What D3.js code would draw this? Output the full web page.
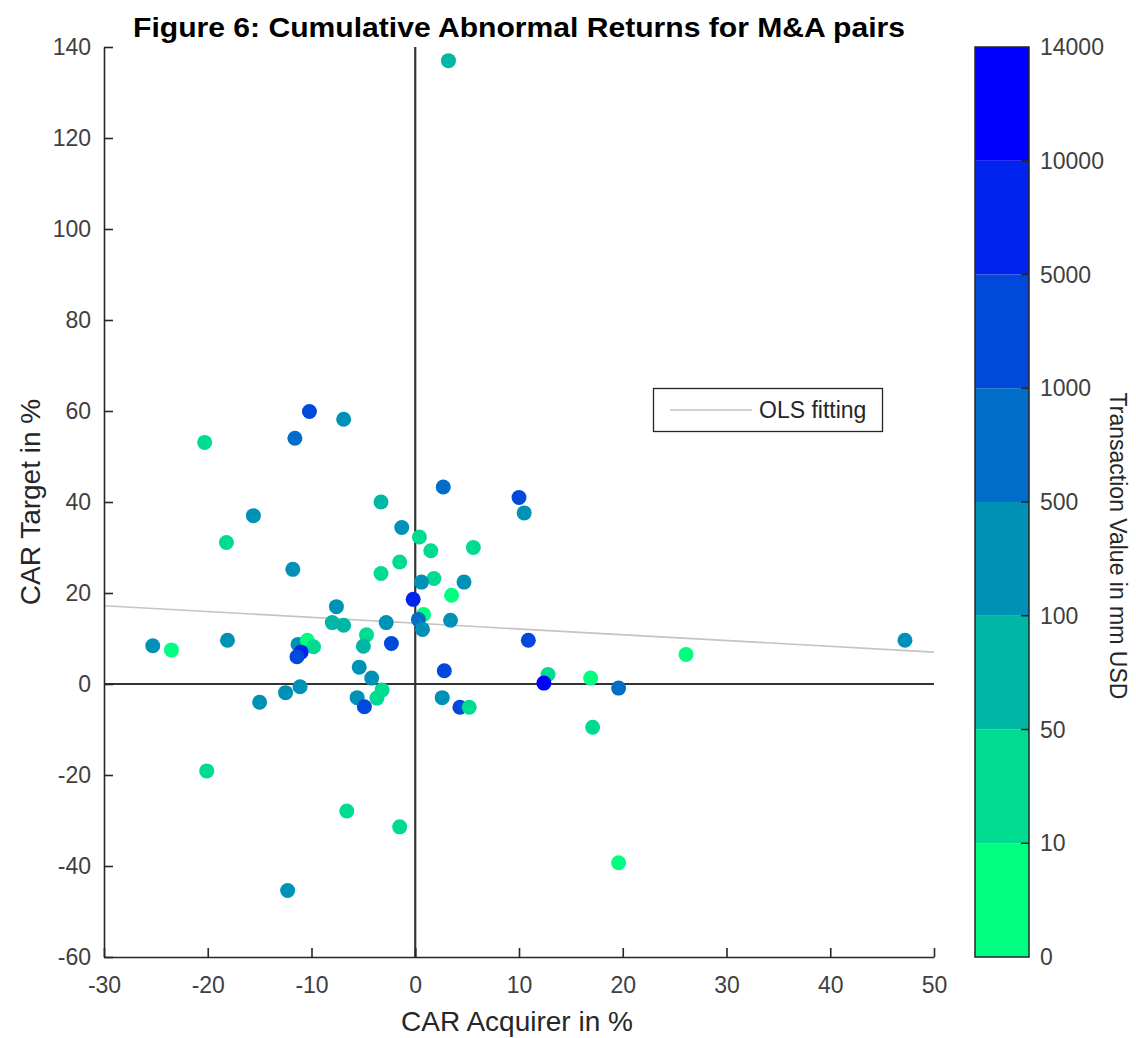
<!DOCTYPE html>
<html>
<head>
<meta charset="utf-8">
<script src="https://cdn.jsdelivr.net/npm/d3@7"></script>
<style>
  html, body { margin: 0; padding: 0; background: #fff; }
  svg { display: block; font-family: "Liberation Sans", Arial, Helvetica, sans-serif; }
</style>
</head>
<body>
<svg id="chart" width="1136" height="1038"></svg>
<script>
// ---------------- data ----------------
const acquirerCAR = [3.2, -20.3, -10.2, -6.9, -11.6, 2.7, 10.0, 10.5, -3.3, -15.6,
  -1.3, -18.2, 0.4, 1.5, 5.6, -1.5, -3.3, 1.8, 0.6, 4.7,
  -11.8, 3.5, -0.2, -7.6, 0.8, 3.4, -8.0, -6.9, -2.8, 0.3,
  0.7, -25.3, -23.5, -18.1, -11.3, -10.4, -9.8, -11.0, -11.4, -4.7,
  -5.0, -2.3, -5.4, -4.2, 2.8, -11.1, -12.5, -15.0, -5.6, -4.9,
  -3.2, -3.7, 2.6, 4.3, 5.2, 10.9, 12.8, 12.4, 16.9, 19.6,
  17.1, 26.1, 47.2, 19.6, -20.1, -6.6, -1.5, -12.3];
const targetCAR = [137.0, 53.1, 59.9, 58.2, 54.0, 43.3, 41.0, 37.6, 40.0, 37.0,
  34.4, 31.1, 32.3, 29.3, 30.0, 26.8, 24.3, 23.2, 22.4, 22.4,
  25.2, 19.5, 18.6, 17.0, 15.3, 14.0, 13.5, 12.9, 13.5, 14.2,
  12.0, 8.4, 7.5, 9.6, 8.7, 9.6, 8.2, 7.0, 6.0, 10.8,
  8.3, 8.9, 3.7, 1.3, 2.9, -0.6, -1.9, -4.0, -3.0, -5.0,
  -1.3, -3.1, -3.0, -5.1, -5.1, 9.6, 2.1, 0.2, 1.3, -0.9,
  -9.5, 6.5, 9.6, -39.3, -19.1, -27.9, -31.4, -45.4];
// transaction value in mm USD (estimated within colour band)
const dealValue = [75, 30, 3000, 300, 750, 750, 3000, 300, 75, 300,
  300, 30, 30, 30, 30, 30, 30, 30, 300, 300,
  300, 5, 7500, 300, 5, 300, 75, 75, 300, 750,
  300, 300, 5, 300, 300, 5, 30, 7500, 3000, 30,
  75, 3000, 300, 300, 3000, 300, 300, 300, 300, 3000,
  30, 30, 300, 3000, 30, 3000, 30, 12000, 5, 750,
  30, 5, 300, 5, 30, 30, 30, 300];

const xTicks = [-30, -20, -10, 0, 10, 20, 30, 40, 50];
const yTicks = [-60, -40, -20, 0, 20, 40, 60, 80, 100, 120, 140];
const colorbarTicks = [0, 10, 50, 100, 500, 1000, 5000, 10000, 14000];
// OLS fit line: [x, y] at both ends of the x range
const olsStart = [-30, 17.2];
const olsEnd = [50, 7.0];

const titleText = "Figure 6: Cumulative Abnormal Returns for M&A pairs";
const xLabel = "CAR Acquirer in %";
const yLabel = "CAR Target in %";
const cbLabel = "Transaction Value in mm USD";
const legendLabel = "OLS fitting";

// ---------------- drawing ----------------
const svg = d3.select("#chart");
const L = 104, R = 934, T = 47, B = 957;
const axisColor = "#262626";
const tickTextColor = "#404040";
const fmt = d => String(d); // plain hyphen-minus like the original

const x = d3.scaleLinear().domain([-30, 50]).range([L, R]);
const y = d3.scaleLinear().domain([-60, 140]).range([B, T]);

// winter colormap, 8 levels (green = small deals, blue = large)
const nBands = colorbarTicks.length - 1;
const palette = d3.range(nBands).map(k => {
  const t = 1 - k / (nBands - 1);
  return d3.rgb(0, Math.round(255 * t), Math.round(255 - 127.5 * t)).formatHex();
});
const color = d3.scaleThreshold().domain(colorbarTicks.slice(1, -1)).range(palette);

// OLS line
svg.append("line")
  .attr("x1", x(olsStart[0])).attr("y1", y(olsStart[1]))
  .attr("x2", x(olsEnd[0])).attr("y2", y(olsEnd[1]))
  .attr("stroke", "#c4c4c4").attr("stroke-width", 1.6);

// zero lines
svg.append("line")
  .attr("x1", x(-30)).attr("x2", x(50)).attr("y1", y(0)).attr("y2", y(0))
  .attr("stroke", "#333").attr("stroke-width", 2.2);
svg.append("line")
  .attr("x1", x(0)).attr("x2", x(0)).attr("y1", y(-60)).attr("y2", y(140))
  .attr("stroke", "#333").attr("stroke-width", 2.2);

// points
const pts = acquirerCAR.map((a, i) => ({ a, t: targetCAR[i], v: dealValue[i] }));
svg.append("g").selectAll("circle").data(pts).join("circle")
  .attr("cx", d => x(d.a)).attr("cy", d => y(d.t)).attr("r", 7.5)
  .attr("fill", d => color(d.v));

// axes (ticks inside)
const xAxis = svg.append("g").attr("transform", `translate(0,${B})`)
  .call(d3.axisBottom(x).tickValues(xTicks).tickFormat(fmt)
    .tickSizeInner(-9).tickSizeOuter(0).tickPadding(20));
const yAxis = svg.append("g").attr("transform", `translate(${L},0)`)
  .call(d3.axisLeft(y).tickValues(yTicks).tickFormat(fmt)
    .tickSizeInner(-9).tickSizeOuter(0).tickPadding(13));
[xAxis, yAxis].forEach(g => {
  g.select(".domain").attr("stroke", axisColor).attr("stroke-width", 1.6);
  g.selectAll(".tick line").attr("stroke", axisColor).attr("stroke-width", 1.6);
  g.selectAll(".tick text").attr("fill", tickTextColor)
    .style("font-size", "23px").style("font-family", '"Liberation Sans", Arial, sans-serif');
});

// axis labels
svg.append("text").attr("x", (L + R) / 2 - 2).attr("y", 1031)
  .attr("text-anchor", "middle").attr("fill", axisColor).style("font-size", "28px").text(xLabel);
svg.append("text").attr("transform", `translate(40,${(T + B) / 2}) rotate(-90)`)
  .attr("text-anchor", "middle").attr("fill", axisColor).style("font-size", "28px").text(yLabel);

// title
svg.append("text").attr("x", 519).attr("y", 37)
  .attr("text-anchor", "middle").attr("fill", "#000").style("font-weight", "bold")
  .style("font-size", "28px").attr("textLength", 772).attr("lengthAdjust", "spacingAndGlyphs")
  .text(titleText);

// legend
const lg = svg.append("g");
lg.append("rect").attr("x", 653.5).attr("y", 388.5).attr("width", 229).attr("height", 43)
  .attr("fill", "#fff").attr("stroke", axisColor).attr("stroke-width", 1.3);
lg.append("line").attr("x1", 670).attr("x2", 752).attr("y1", 410).attr("y2", 410)
  .attr("stroke", "#c4c4c4").attr("stroke-width", 1.6);
lg.append("text").attr("x", 759).attr("y", 418).attr("fill", axisColor)
  .style("font-size", "23px").text(legendLabel);

// colorbar
const cbL = 975, cbW = 54;
const cbY = d3.scaleLinear().domain([0, nBands]).range([B, T]);
const cb = svg.append("g");
cb.selectAll("rect.band").data(palette).join("rect").attr("class", "band")
  .attr("x", cbL).attr("width", cbW)
  .attr("y", (c, k) => cbY(k + 1)).attr("height", (c, k) => cbY(k) - cbY(k + 1))
  .attr("fill", c => c);
cb.append("rect").attr("x", cbL).attr("y", T).attr("width", cbW).attr("height", B - T)
  .attr("fill", "none").attr("stroke", axisColor).attr("stroke-width", 1.5);
cb.selectAll("line.tk").data(colorbarTicks.slice(1, -1)).join("line").attr("class", "tk")
  .attr("x1", cbL + cbW).attr("x2", cbL + cbW - 8)
  .attr("y1", (v, i) => cbY(i + 1)).attr("y2", (v, i) => cbY(i + 1))
  .attr("stroke", axisColor).attr("stroke-width", 1.5);
cb.selectAll("text.tl").data(colorbarTicks).join("text").attr("class", "tl")
  .attr("x", cbL + cbW + 11).attr("y", (v, i) => cbY(i)).attr("dy", "0.35em")
  .attr("fill", tickTextColor).style("font-size", "23px").text(v => v);
svg.append("text").attr("transform", `translate(1110,546) rotate(90)`)
  .attr("text-anchor", "middle").attr("fill", axisColor).style("font-size", "23px").text(cbLabel);
</script>
</body>
</html>
